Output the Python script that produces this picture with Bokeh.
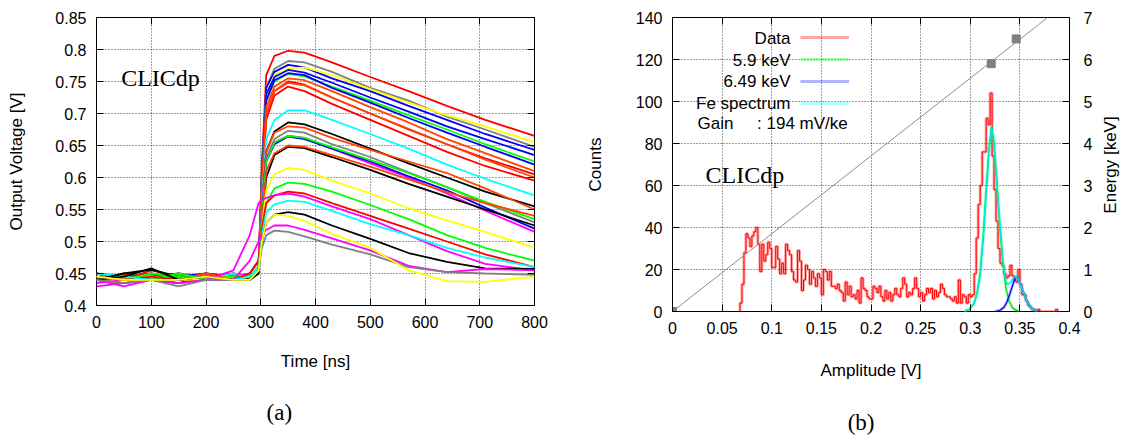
import math
from bokeh.plotting import figure
from bokeh.models import (Range1d, LinearAxis, FixedTicker, CustomJSTickFormatter,
                          Label, Legend, LegendItem, ColumnDataSource)
from bokeh.layouts import row
from bokeh.embed import file_html
from bokeh.resources import INLINE

# ---------------- panel (a): waveforms ----------------
T_NS = [0, 50, 100, 150, 200, 250, 280, 296, 302, 310, 325, 350, 380, 430, 500, 570, 640, 710, 800]
TIME_TICKS = [0, 100, 200, 300, 400, 500, 600, 700, 800]
VOLT_TICKS = [0.4, 0.45, 0.5, 0.55, 0.6, 0.65, 0.7, 0.75, 0.8, 0.85]

WAVE_COLORS = ["#ff0000", "#808080", "#0000ff", "#ffff00", "#0000ff", "#00ff00", "#0000ff",
               "#ff4500", "#ff0000", "#ff0000", "#ff4500",
               "#00ffff", "#000000", "#ff4500", "#808080", "#ff00ff", "#0000ff", "#00ff00",
               "#000000", "#ff4500",
               "#ffff00", "#00ff00", "#ff0000", "#ff00ff", "#00ffff", "#000000", "#ff00ff",
               "#808080", "#ffff00"]

WAVES = [
    [0.450, 0.440, 0.455, 0.445, 0.440, 0.450, 0.445, 0.460, 0.620, 0.760, 0.790, 0.798, 0.795, 0.780, 0.757, 0.735, 0.712, 0.690, 0.665],
    [0.440, 0.450, 0.440, 0.450, 0.445, 0.440, 0.440, 0.455, 0.600, 0.740, 0.770, 0.782, 0.780, 0.765, 0.740, 0.720, 0.695, 0.675, 0.648],
    [0.445, 0.440, 0.450, 0.440, 0.450, 0.445, 0.445, 0.460, 0.610, 0.740, 0.765, 0.776, 0.772, 0.755, 0.735, 0.712, 0.690, 0.668, 0.643],
    [0.440, 0.445, 0.440, 0.450, 0.440, 0.445, 0.440, 0.455, 0.600, 0.730, 0.760, 0.770, 0.772, 0.760, 0.738, 0.717, 0.697, 0.680, 0.655],
    [0.450, 0.445, 0.440, 0.445, 0.450, 0.440, 0.445, 0.455, 0.600, 0.730, 0.757, 0.768, 0.764, 0.748, 0.725, 0.703, 0.680, 0.660, 0.635],
    [0.440, 0.450, 0.445, 0.440, 0.440, 0.450, 0.440, 0.455, 0.590, 0.720, 0.750, 0.762, 0.758, 0.742, 0.720, 0.697, 0.675, 0.652, 0.625],
    [0.445, 0.440, 0.445, 0.450, 0.440, 0.445, 0.440, 0.455, 0.590, 0.720, 0.752, 0.763, 0.760, 0.740, 0.717, 0.693, 0.670, 0.648, 0.620],
    [0.440, 0.450, 0.440, 0.445, 0.445, 0.440, 0.445, 0.460, 0.590, 0.710, 0.742, 0.755, 0.752, 0.735, 0.710, 0.686, 0.660, 0.638, 0.610],
    [0.450, 0.440, 0.445, 0.440, 0.450, 0.445, 0.450, 0.470, 0.580, 0.700, 0.735, 0.750, 0.745, 0.725, 0.700, 0.675, 0.652, 0.630, 0.605],
    [0.440, 0.445, 0.450, 0.440, 0.445, 0.450, 0.445, 0.460, 0.570, 0.690, 0.728, 0.742, 0.735, 0.715, 0.690, 0.665, 0.640, 0.618, 0.595],
    [0.445, 0.440, 0.440, 0.450, 0.440, 0.445, 0.440, 0.455, 0.580, 0.700, 0.735, 0.748, 0.744, 0.725, 0.700, 0.676, 0.652, 0.628, 0.600],
    [0.450, 0.445, 0.440, 0.445, 0.440, 0.450, 0.445, 0.455, 0.560, 0.660, 0.690, 0.705, 0.705, 0.690, 0.668, 0.645, 0.620, 0.598, 0.572],
    [0.440, 0.450, 0.456, 0.445, 0.440, 0.445, 0.440, 0.455, 0.550, 0.640, 0.672, 0.686, 0.683, 0.668, 0.645, 0.622, 0.600, 0.578, 0.555],
    [0.445, 0.440, 0.445, 0.440, 0.450, 0.440, 0.445, 0.460, 0.550, 0.640, 0.670, 0.680, 0.678, 0.662, 0.643, 0.625, 0.607, 0.583, 0.550],
    [0.440, 0.435, 0.440, 0.445, 0.440, 0.440, 0.440, 0.450, 0.540, 0.630, 0.660, 0.673, 0.670, 0.652, 0.632, 0.608, 0.585, 0.560, 0.530],
    [0.435, 0.440, 0.445, 0.440, 0.440, 0.445, 0.450, 0.470, 0.550, 0.630, 0.655, 0.665, 0.662, 0.645, 0.622, 0.600, 0.575, 0.548, 0.515],
    [0.440, 0.445, 0.440, 0.440, 0.445, 0.440, 0.440, 0.455, 0.540, 0.625, 0.652, 0.664, 0.660, 0.645, 0.625, 0.602, 0.580, 0.553, 0.520],
    [0.445, 0.440, 0.450, 0.445, 0.440, 0.445, 0.445, 0.460, 0.540, 0.625, 0.655, 0.665, 0.662, 0.647, 0.627, 0.607, 0.585, 0.562, 0.535],
    [0.440, 0.445, 0.440, 0.435, 0.445, 0.440, 0.440, 0.450, 0.520, 0.600, 0.635, 0.648, 0.646, 0.632, 0.612, 0.590, 0.570, 0.550, 0.525],
    [0.440, 0.435, 0.440, 0.440, 0.445, 0.440, 0.445, 0.455, 0.530, 0.610, 0.638, 0.650, 0.648, 0.635, 0.617, 0.597, 0.577, 0.560, 0.540],
    [0.445, 0.440, 0.445, 0.440, 0.440, 0.445, 0.445, 0.455, 0.520, 0.580, 0.605, 0.615, 0.612, 0.595, 0.575, 0.552, 0.533, 0.515, 0.490],
    [0.440, 0.445, 0.440, 0.450, 0.440, 0.445, 0.445, 0.455, 0.510, 0.560, 0.583, 0.592, 0.590, 0.578, 0.557, 0.535, 0.510, 0.490, 0.470],
    [0.445, 0.440, 0.445, 0.440, 0.445, 0.440, 0.450, 0.470, 0.520, 0.560, 0.572, 0.578, 0.575, 0.560, 0.540, 0.520, 0.500, 0.480, 0.460],
    [0.440, 0.430, 0.440, 0.435, 0.440, 0.455, 0.510, 0.560, 0.565, 0.568, 0.572, 0.575, 0.570, 0.555, 0.535, 0.510, 0.485, 0.465, 0.455],
    [0.440, 0.445, 0.440, 0.440, 0.445, 0.440, 0.445, 0.460, 0.510, 0.545, 0.558, 0.564, 0.562, 0.548, 0.527, 0.510, 0.490, 0.475, 0.460],
    [0.440, 0.445, 0.458, 0.440, 0.445, 0.440, 0.440, 0.455, 0.500, 0.530, 0.542, 0.546, 0.542, 0.525, 0.504, 0.482, 0.468, 0.458, 0.457],
    [0.430, 0.435, 0.440, 0.435, 0.440, 0.440, 0.470, 0.500, 0.510, 0.518, 0.525, 0.525, 0.518, 0.505, 0.486, 0.462, 0.452, 0.457, 0.455],
    [0.440, 0.435, 0.440, 0.430, 0.440, 0.440, 0.440, 0.455, 0.490, 0.510, 0.517, 0.515, 0.508, 0.495, 0.480, 0.460, 0.452, 0.450, 0.448],
    [0.445, 0.440, 0.440, 0.440, 0.445, 0.440, 0.440, 0.455, 0.500, 0.530, 0.542, 0.540, 0.532, 0.512, 0.490, 0.455, 0.438, 0.437, 0.445],
]

# ---------------- panel (b): spectrum ----------------
AMP_TICKS = [0, 0.05, 0.1, 0.15, 0.2, 0.25, 0.3, 0.35, 0.4]
COUNT_TICKS = [0, 20, 40, 60, 80, 100, 120, 140]
KEV_TICKS = [0, 1, 2, 3, 4, 5, 6, 7]

BIN_START = 0.068
BIN_WIDTH = 0.002
COUNTS = [4, 13, 28, 37, 35, 31, 36, 38, 40, 32, 19, 32, 24, 27, 33, 30, 21, 21, 31, 25,
          18, 23, 18, 32, 29, 27, 19, 15, 14, 29, 24, 10, 15, 22, 20, 13, 19, 16, 12, 18,
          16, 8, 20, 19, 15, 19, 12, 12, 11, 13, 10, 9, 5, 14, 8, 12, 7, 8, 6, 10,
          4, 16, 11, 10, 7, 6, 6, 12, 11, 9, 12, 7, 5, 10, 6, 9, 5, 8, 11, 8,
          7, 11, 16, 13, 7, 9, 8, 11, 16, 11, 7, 9, 5, 8, 11, 9, 11, 6, 10, 7,
          9, 13, 11, 8, 7, 7, 6, 5, 7, 4, 15, 4, 8, 7, 4, 8, 7, 8, 18, 35,
          51, 60, 76, 76, 92, 89, 104, 74, 58, 43, 30, 23, 22, 18, 16, 17, 22, 17, 15, 14,
          20, 13, 8, 8, 5, 3, 2, 1, 1, 0, 1, 0, 0, 0, 0, 0, 0, 0, 0, 1, 0]

G59_A = [0.294, 0.299, 0.304, 0.307, 0.310, 0.313, 0.316, 0.319, 0.3215, 0.324, 0.327, 0.330, 0.333, 0.336, 0.339, 0.343, 0.349]
G59_C = [0, 1, 4, 9, 18, 35, 57, 78, 88, 80, 60, 40, 22, 11, 5, 1.5, 0]
G649_A = [0.325, 0.330, 0.334, 0.337, 0.340, 0.343, 0.3457, 0.348, 0.351, 0.354, 0.357, 0.360, 0.363, 0.367]
G649_C = [0, 0.6, 2, 4.5, 8.5, 13, 16.7, 15.8, 12.5, 8.5, 5, 2.5, 1, 0]
FE_A = [0.294, 0.299, 0.304, 0.307, 0.310, 0.313, 0.316, 0.319, 0.3215, 0.324, 0.327, 0.330, 0.333,
        0.336, 0.338, 0.340, 0.343, 0.3457, 0.348, 0.351, 0.354, 0.357, 0.360, 0.363, 0.367]
FE_C = [0, 1, 4, 9, 18, 35, 57, 78, 88, 80, 60, 40.5, 23.5, 14, 13, 13.5, 15.5, 16.8, 15.8, 12.5, 8.5, 5, 2.5, 1, 0]

CAL_AMP = [0.0, 0.3211, 0.3463]
CAL_KEV = [0.0, 5.9, 6.49]
FIT_AMP = [0.0, 0.378]
FIT_KEV = [0.0, 7.0]

LEGEND_NAMES = ["Data", "5.9 keV", "6.49 keV", "Fe spectrum"]
GAIN_TEXT = "Gain\u00a0\u00a0\u00a0\u00a0\u00a0: 194 mV/ke"

SANS = "Liberation Sans"
SERIF = "Liberation Serif"

blank_fmt = CustomJSTickFormatter(code="return '';")


def style_axis(ax, labels=True):
    ax.axis_line_color = None
    ax.major_tick_in = 7
    ax.major_tick_out = 0
    ax.minor_tick_line_color = None
    ax.major_tick_line_color = "black"
    ax.major_label_text_font = SANS
    ax.major_label_text_color = "black"
    ax.major_label_text_font_size = "16px"
    ax.axis_label_text_font = SANS
    ax.axis_label_text_font_size = "17px"
    ax.axis_label_text_font_style = "normal"
    ax.axis_label_text_color = "black"
    if labels:
        ax.major_label_standoff = 10
    else:
        ax.formatter = blank_fmt
        ax.major_label_standoff = 0


def text_axis(ax, font, size, standoff):
    """An axis that only carries one text (a caption) as its single tick label."""
    ax.axis_line_color = None
    ax.major_tick_line_color = None
    ax.minor_tick_line_color = None
    ax.major_tick_in = 0
    ax.major_tick_out = 0
    ax.major_label_text_font = font
    ax.major_label_text_font_size = size
    ax.major_label_text_color = "black"
    ax.major_label_standoff = standoff


def style_fig(p):
    p.outline_line_color = "black"
    p.outline_line_width = 1
    p.outline_line_alpha = 1
    p.background_fill_color = "white"
    p.border_fill_color = "white"
    p.grid.grid_line_color = "black"
    p.grid.grid_line_dash = "1 2"
    p.grid.grid_line_alpha = 0.75
    p.grid.grid_line_width = 1


num_fmt = CustomJSTickFormatter(code="""
    var s = tick.toFixed(2);
    s = s.replace(/0+$/, '').replace(/\\.$/, '');
    return s;
""")

# ---------- figure a ----------
p1 = figure(frame_width=438, frame_height=288, x_range=Range1d(0, 800), y_range=Range1d(0.4, 0.85),
            output_backend="svg", toolbar_location=None,
            min_border_left=96, min_border_right=30, min_border_top=17, min_border_bottom=130)
style_fig(p1)
p1.xaxis.ticker = FixedTicker(ticks=TIME_TICKS)
p1.yaxis.ticker = FixedTicker(ticks=VOLT_TICKS)
p1.yaxis.formatter = num_fmt
p1.xaxis.axis_label = "Time [ns]"
p1.yaxis.axis_label = "Output Voltage [V]"
style_axis(p1.xaxis[0])
style_axis(p1.yaxis[0])
p1.xaxis.axis_label_standoff = 21
p1.yaxis.axis_label_standoff = 26

top1 = LinearAxis(ticker=FixedTicker(ticks=TIME_TICKS))
right1 = LinearAxis(ticker=FixedTicker(ticks=VOLT_TICKS))
style_axis(top1, False)
style_axis(right1, False)
p1.add_layout(top1, "above")
p1.add_layout(right1, "right")

cap_a = LinearAxis(ticker=FixedTicker(ticks=[334]), formatter=CustomJSTickFormatter(code="return '(a)';"))
text_axis(cap_a, SERIF, "23px", 26)
p1.add_layout(cap_a, "below")

for vals, col in zip(WAVES, WAVE_COLORS):
    p1.line(T_NS, vals, line_color=col, line_width=1.8)

p1.add_layout(Label(x=45, y=0.756, text="CLICdp", text_font=SERIF, text_font_size="24px",
                    text_baseline="alphabetic", text_align="left", text_color="black"))

# ---------- figure b ----------
p2 = figure(frame_width=397, frame_height=294, x_range=Range1d(0, 0.4), y_range=Range1d(0, 140),
            output_backend="svg", toolbar_location=None,
            min_border_left=108, min_border_right=58, min_border_top=17, min_border_bottom=124)
style_fig(p2)
p2.extra_y_ranges = {"energy": Range1d(0, 7)}
p2.xaxis.ticker = FixedTicker(ticks=AMP_TICKS)
p2.xaxis.formatter = num_fmt
p2.yaxis.ticker = FixedTicker(ticks=COUNT_TICKS)
p2.xaxis.axis_label = "Amplitude [V]"
p2.yaxis.axis_label = "Counts"
style_axis(p2.xaxis[0])
style_axis(p2.yaxis[0])
p2.xaxis.axis_label_standoff = 24
p2.yaxis.axis_label_standoff = 28

top2 = LinearAxis(ticker=FixedTicker(ticks=AMP_TICKS))
right2 = LinearAxis(y_range_name="energy", ticker=FixedTicker(ticks=KEV_TICKS))
style_axis(top2, False)
style_axis(right2, True)
right2.major_label_standoff = 14
p2.add_layout(top2, "above")
p2.add_layout(right2, "right")

cap_e = LinearAxis(y_range_name="energy", ticker=FixedTicker(ticks=[2.33]),
                   formatter=CustomJSTickFormatter(code="return 'Energy [keV]';"))
text_axis(cap_e, SANS, "17px", 15)
cap_e.major_label_orientation = math.pi / 2
p2.add_layout(cap_e, "right")

cap_b = LinearAxis(ticker=FixedTicker(ticks=[0.19]), formatter=CustomJSTickFormatter(code="return '(b)';"))
text_axis(cap_b, SERIF, "23px", 27)
p2.add_layout(cap_b, "below")

edges = [BIN_START + i * BIN_WIDTH for i in range(len(COUNTS) + 1)]
hx = [edges[0]] + edges
hy = [0] + COUNTS + [0]
src_h = ColumnDataSource(dict(x=hx, y=hy))
r_data_bg = p2.step("x", "y", source=src_h, mode="after", line_color="#ff0000", line_alpha=0.35, line_width=3)
p2.step("x", "y", source=src_h, mode="after", line_color="#ff0000", line_width=1)

p2.line(FIT_AMP, FIT_KEV, y_range_name="energy", line_color="#8c8c8c", line_width=1)
p2.scatter(CAL_AMP, CAL_KEV, y_range_name="energy", marker="square", size=8,
           fill_color="#7f7f7f", line_color="#7f7f7f")

r_g_bg = p2.line(G59_A, G59_C, line_color="#00ff00", line_alpha=0.3, line_width=3)
r_b_bg = p2.line(G649_A, G649_C, line_color="#0000ff", line_alpha=0.3, line_width=3)
r_c_bg = p2.line(FE_A, FE_C, line_color="#00ffff", line_alpha=0.3, line_width=3)
p2.line(G59_A, G59_C, line_color="#00dd00", line_width=1.2)
p2.line(G649_A, G649_C, line_color="#0000ff", line_width=1.2)
p2.line(FE_A, FE_C, line_color="#00e5e5", line_width=1.4)

leg = Legend(items=[LegendItem(label=" ", renderers=[r]) for r in [r_data_bg, r_g_bg, r_b_bg, r_c_bg]],
             location=(128, 201), orientation="vertical",
             glyph_width=49, glyph_height=14, label_width=1, label_standoff=0,
             label_height=14, label_text_font_size="10px", spacing=8, padding=0, margin=0,
             border_line_color=None, background_fill_alpha=0)
p2.add_layout(leg)

leg_y = [130, 119.5, 109.5, 99]
for name, yy in zip(LEGEND_NAMES, leg_y):
    p2.add_layout(Label(x=0.1189, y=yy, text=name, text_font=SANS, text_font_size="17px",
                        text_align="right", text_baseline="middle", text_color="black"))
p2.add_layout(Label(x=0.0252, y=89.5, text=GAIN_TEXT, text_font=SANS, text_font_size="17px",
                    text_align="left", text_baseline="middle", text_color="black"))
p2.add_layout(Label(x=0.0333, y=64.8, text="CLICdp", text_font=SERIF, text_font_size="24px",
                    text_baseline="alphabetic", text_align="left", text_color="black"))

layout = row(p1, p2)
open("out.html", "w").write(file_html(layout, INLINE))
